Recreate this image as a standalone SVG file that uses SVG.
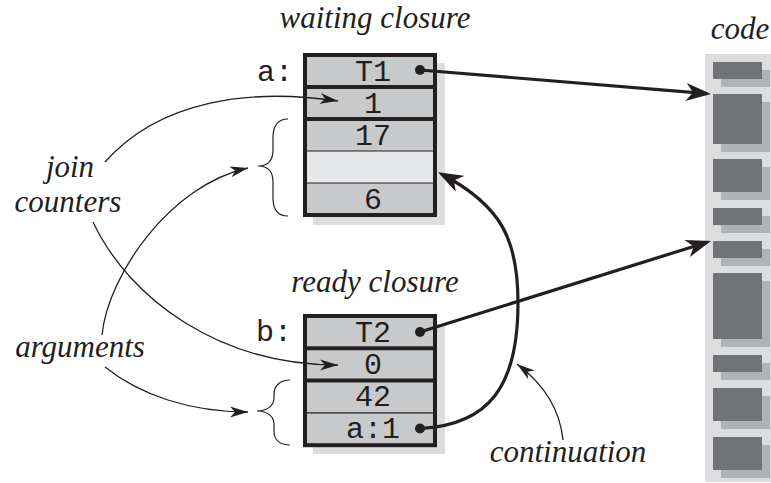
<svg xmlns="http://www.w3.org/2000/svg" width="771" height="483" viewBox="0 0 771 483">
<style>
.lab{font-style:italic;font-size:31px;fill:#231f20}
.mono{font-size:30px;fill:#231f20;text-anchor:middle}
.monol{font-size:30px;fill:#231f20}
.cell{fill:#c8c9cb}
.cell-light{fill:#e6e7e8}
.shadow{fill:#dcdddf}
.border{fill:none;stroke:#231f20;stroke-width:4}
.sep{stroke:#231f20;stroke-width:4}
.sep-thin{stroke:#231f20;stroke-width:1.2}
.dot{fill:#231f20}
.thin{fill:none;stroke:#231f20;stroke-width:1.3}
.thick{fill:none;stroke:#231f20;stroke-width:3.2}
.brace{fill:none;stroke:#231f20;stroke-width:1.2}
.strip{fill:#dcdddf}
.blk{fill:#717275}
.blk-sh{fill:#b1b2b4}
</style>
<defs>
<marker id="ah" markerUnits="userSpaceOnUse" viewBox="0 0 18 12" markerWidth="18" markerHeight="12" refX="18" refY="6" orient="auto">
<path d="M0,0.5 L18,6 L0,11.5 L5,6 z" fill="#231f20"/>
</marker>
<marker id="ahb" markerUnits="userSpaceOnUse" viewBox="0 0 25 20" markerWidth="25" markerHeight="20" refX="21" refY="10" orient="auto">
<path d="M0,1 L25,10 L0,19 L7,10 z" fill="#231f20"/>
</marker>
</defs>

<g id="code">
<text class="lab" font-family="Liberation Serif, DejaVu Serif, serif" x="740" y="39" text-anchor="middle">code</text>
<rect class="strip" x="705" y="54" width="66" height="428"/>
<rect class="blk-sh" x="721" y="70" width="49" height="17"/>
<rect class="blk" x="713" y="62" width="49" height="17"/>
<rect class="blk-sh" x="721" y="102" width="49" height="50"/>
<rect class="blk" x="713" y="94" width="49" height="50"/>
<rect class="blk-sh" x="721" y="167" width="49" height="33"/>
<rect class="blk" x="713" y="159" width="49" height="33"/>
<rect class="blk-sh" x="721" y="216" width="49" height="17"/>
<rect class="blk" x="713" y="208" width="49" height="17"/>
<rect class="blk-sh" x="721" y="249" width="49" height="17"/>
<rect class="blk" x="713" y="241" width="49" height="17"/>
<rect class="blk-sh" x="721" y="281" width="49" height="66"/>
<rect class="blk" x="713" y="273" width="49" height="66"/>
<rect class="blk-sh" x="721" y="363" width="49" height="17"/>
<rect class="blk" x="713" y="355" width="49" height="17"/>
<rect class="blk-sh" x="721" y="396" width="49" height="33"/>
<rect class="blk" x="713" y="388" width="49" height="33"/>
<rect class="blk-sh" x="721" y="445" width="49" height="33"/>
<rect class="blk" x="713" y="437" width="49" height="33"/>
</g>

<g id="waiting-closure">
<text class="lab" font-family="Liberation Serif, DejaVu Serif, serif" x="375" y="28" text-anchor="middle">waiting closure</text>
<text class="monol" font-family="Liberation Mono, DejaVu Sans Mono, monospace" x="257" y="81">a:</text>
<rect class="shadow" x="313" y="63" width="132" height="162"/>
<rect class="cell" x="305" y="55" width="130" height="96"/>
<rect class="cell-light" x="305" y="151" width="130" height="32"/>
<rect class="cell" x="305" y="183" width="130" height="32"/>
<line class="sep" x1="305" y1="87" x2="435" y2="87"/>
<line class="sep" x1="305" y1="119" x2="435" y2="119"/>
<line class="sep-thin" x1="305" y1="151" x2="435" y2="151"/>
<line class="sep-thin" x1="305" y1="183" x2="435" y2="183"/>
<rect class="border" x="305" y="55" width="130" height="160"/>
<g font-family="Liberation Mono, DejaVu Sans Mono, monospace">
<text class="mono" x="373" y="80.5">T1</text>
<text class="mono" x="373" y="112.5">1</text>
<text class="mono" x="373" y="144.5">17</text>
<text class="mono" x="373" y="208.5">6</text>
</g>
<circle class="dot" cx="420" cy="70" r="5"/>
</g>

<g id="ready-closure">
<text class="lab" font-family="Liberation Serif, DejaVu Serif, serif" x="375" y="292" text-anchor="middle">ready closure</text>
<text class="monol" font-family="Liberation Mono, DejaVu Sans Mono, monospace" x="256" y="341">b:</text>
<rect class="shadow" x="313" y="324" width="132" height="130"/>
<rect class="cell" x="305" y="316" width="130" height="129.2"/>
<line class="sep" x1="305" y1="348.3" x2="435" y2="348.3"/>
<line class="sep" x1="305" y1="380.6" x2="435" y2="380.6"/>
<line class="sep-thin" x1="305" y1="412.9" x2="435" y2="412.9"/>
<rect class="border" x="305" y="316" width="130" height="129.2"/>
<g font-family="Liberation Mono, DejaVu Sans Mono, monospace">
<text class="mono" x="373" y="341.5">T2</text>
<text class="mono" x="373" y="373.5">0</text>
<text class="mono" x="373" y="406">42</text>
<text class="mono" x="373" y="438">a:1</text>
</g>
<circle class="dot" cx="420" cy="332" r="5"/>
<circle class="dot" cx="420" cy="428.5" r="5"/>
</g>

<g id="braces">
<path class="brace" d="M288,119 C278,119 273,126 273,138 L273,150 C273,160 268,166 258,166 C268,166 273,172 273,182 L273,198 C273,210 278,216 288,216"/>
<path class="brace" d="M290,380 C280,380 274,386 274,394 L274,398 C274,405 268,411 257,411 C268,411 274,417 274,424 L274,431 C274,440 280,445 290,445"/>
</g>

<g id="join-counters">
<text class="lab" font-family="Liberation Serif, DejaVu Serif, serif" x="70" y="177" text-anchor="middle">join</text>
<text class="lab" font-family="Liberation Serif, DejaVu Serif, serif" x="68" y="212" text-anchor="middle">counters</text>
</g>
<g id="arguments">
<text class="lab" font-family="Liberation Serif, DejaVu Serif, serif" x="80" y="357" text-anchor="middle">arguments</text>
</g>
<g id="continuation">
<text class="lab" font-family="Liberation Serif, DejaVu Serif, serif" x="568" y="462" text-anchor="middle">continuation</text>
</g>

<g id="connectors">
<path class="thin" d="M105,162 C160,100 250,88 338,101" marker-end="url(#ah)"/>
<path class="thin" d="M93,222 C130,300 220,365 338,365" marker-end="url(#ah)"/>
<path class="thin" d="M102,335 C108,275 170,185 248,168" marker-end="url(#ah)"/>
<path class="thin" d="M105,367 C140,395 190,412 248,412" marker-end="url(#ah)"/>
<path class="thin" d="M563,440 C560,410 545,385 517,364" marker-end="url(#ah)"/>
<path class="thick" d="M420,70 L707,93.7" marker-end="url(#ahb)"/>
<path class="thick" d="M420,332 L707.2,242.2" marker-end="url(#ahb)"/>
<path class="thick" d="M420,428.5 C490,425 518,385 518,303 C518,240 502,206 441.5,174" marker-end="url(#ahb)"/>
</g>
</svg>
